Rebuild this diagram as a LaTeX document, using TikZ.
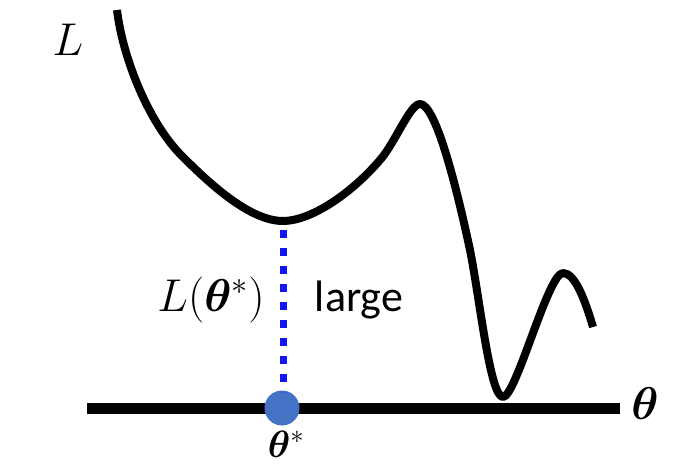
\RequirePackage{fix-cm}
\documentclass[tikz,border=0pt]{standalone}
\usepackage{bm}
\usepackage{fontspec}
\newfontfamily\calfont{Carlito}
\begin{document}
\begin{tikzpicture}[x=1pt,y=-1pt,
  curve/.style={line width=8pt,black,line join=round},
  axisline/.style={line width=11pt,black},
  dotline/.style={line width=7pt,color={rgb,255:red,20;green,20;blue,240},dash pattern=on 8pt off 10pt},
  lbl/.style={inner sep=0pt,font=\fontsize{46}{52}\selectfont},
  sans/.style={inner sep=0pt,font=\calfont\fontsize{44}{50}\selectfont}]
\useasboundingbox (0,0) rectangle (690,468);
\definecolor{dotblue}{RGB}{68,114,196}
% loss curve
\draw[curve] (117,10) .. controls (123,60) and (150,125) .. (183,157)
  .. controls (210,184) and (250,221) .. (283,221)
  .. controls (310,221) and (350,195) .. (380,160)
  .. controls (395,143) and (410,104) .. (420,104)
  .. controls (435,104) and (455,180) .. (470,250)
  .. controls (480,300) and (490,397) .. (503,397)
  .. controls (516,397) and (548,273) .. (563,273)
  .. controls (575,273) and (585,300) .. (593,327);
% axis
\coordinate (axL) at (87,408);
\coordinate (axR) at (620,408);
\draw[axisline] (axL) -- (axR);
% minimum point and dot
\coordinate (m) at (283,230);
\node[circle,fill=dotblue,minimum size=35pt,inner sep=0pt] (dot) at (282,408) {};
\draw[dotline] (m) -- (283,392);
% labels
\node[lbl] (Ltop) at (68,40) {$L$};
\node[lbl] (th) at (645,404) {$\bm{\theta}$};
\node[lbl] (Lth) at (211,300) {$L(\bm{\theta}^{*})$};
\node[sans] (large) at (359,300) {large};
\node[inner sep=0pt,font=\fontsize{38}{44}\selectfont,anchor=base] (ths) at (286,457) {$\bm{\theta}^{*}$};
\end{tikzpicture}
\end{document}
